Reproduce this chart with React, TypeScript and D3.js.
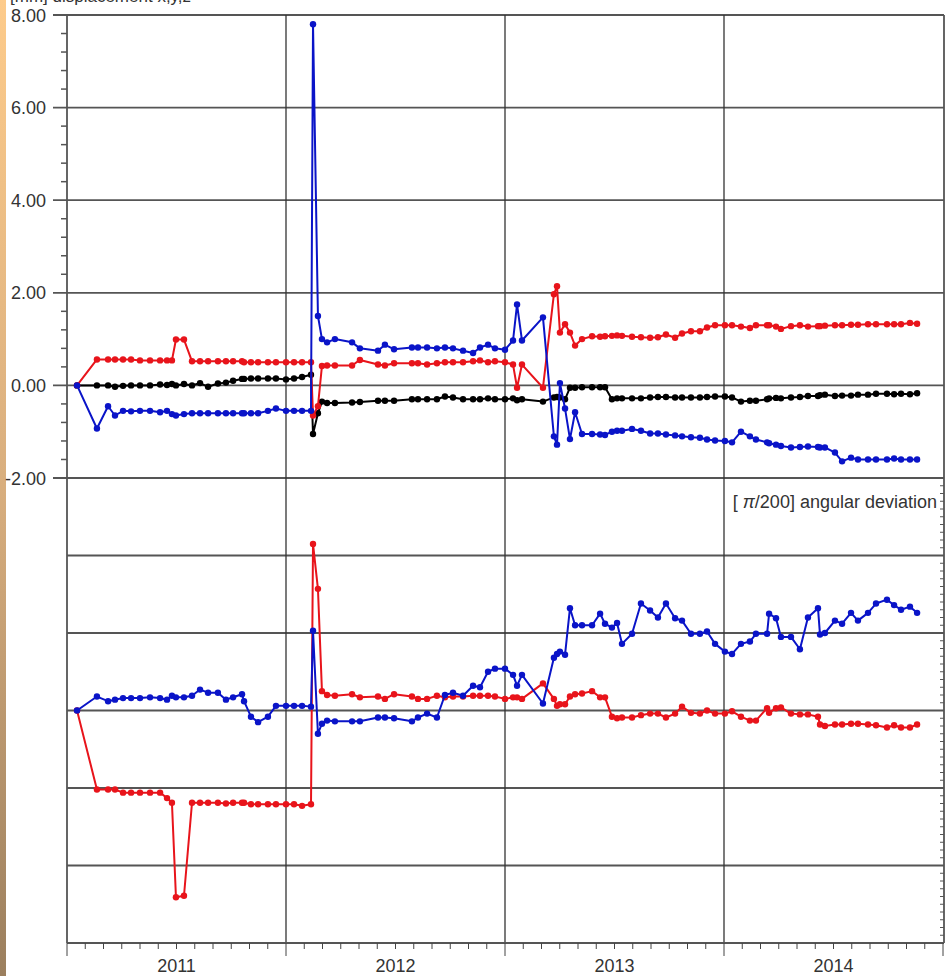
import * as d3 from 'd3';

// survey epochs, months since Jan 2011
const MONTHS = [
  0.55, 1.64, 2.25, 2.63, 3.07, 3.51, 4.0, 4.55, 5.1, 5.48, 5.75, 5.97, 6.41, 6.85, 7.29, 7.73, 8.27, 8.71, 9.1, 9.59,
  9.7, 10.08, 10.47, 11.01, 11.45, 12.0, 12.44, 12.88, 13.37, 13.48, 13.75, 13.97, 14.25, 14.68, 15.62, 16.05, 17.04, 17.42, 17.92, 18.9,
  19.23, 19.73, 20.27, 20.71, 21.15, 21.7, 22.25, 22.63, 23.07, 23.45, 24.0, 24.44, 24.66, 24.93, 26.08, 26.68, 26.85, 27.01, 27.29, 27.56,
  27.84, 28.22, 28.77, 29.21, 29.48, 29.86, 30.14, 30.41, 30.96, 31.45, 31.95, 32.38, 32.82, 33.32, 33.7, 34.19, 34.68, 35.07, 35.51, 36.05,
  36.44, 36.93, 37.42, 37.75, 38.36, 38.47, 38.85, 39.12, 39.67, 40.16, 40.6, 41.15, 41.26, 41.53, 42.08, 42.47, 42.96, 43.34, 43.89, 44.33,
  44.93, 45.32, 45.7, 46.19, 46.58,
];

// [mm] displacement
const DISP_RED = [
  0, 0.56, 0.56, 0.56, 0.56, 0.56, 0.54, 0.54, 0.54, 0.54, 0.54, 0.99, 0.99, 0.52, 0.52, 0.52, 0.52, 0.52, 0.52, 0.52,
  0.5, 0.5, 0.5, 0.5, 0.5, 0.5, 0.5, 0.5, 0.5, -0.65, -0.45, 0.42, 0.43, 0.43, 0.43, 0.55, 0.45, 0.43, 0.48, 0.48,
  0.48, 0.45, 0.48, 0.5, 0.5, 0.5, 0.52, 0.54, 0.5, 0.52, 0.5, 0.45, -0.05, 0.45, -0.05, 1.97, 2.14, 1.14, 1.32, 1.14,
  0.86, 1.0, 1.06, 1.05, 1.06, 1.07, 1.08, 1.07, 1.05, 1.04, 1.03, 1.04, 1.1, 1.03, 1.12, 1.17, 1.17, 1.25, 1.3, 1.3,
  1.3, 1.27, 1.24, 1.3, 1.3, 1.3, 1.27, 1.22, 1.28, 1.3, 1.27, 1.28, 1.28, 1.29, 1.3, 1.3, 1.31, 1.31, 1.32, 1.32,
  1.32, 1.32, 1.32, 1.35, 1.33,
];
const DISP_BLACK = [
  0, 0, 0, -0.03, -0.01, 0, 0, 0, 0.02, 0.01, 0.03, 0, 0.03, 0, 0.05, -0.03, 0.04, 0.06, 0.1, 0.14,
  0.14, 0.15, 0.15, 0.15, 0.15, 0.13, 0.15, 0.18, 0.23, -1.05, -0.6, -0.35, -0.38, -0.38, -0.37, -0.36, -0.33, -0.33, -0.33, -0.3,
  -0.3, -0.3, -0.3, -0.24, -0.26, -0.3, -0.3, -0.3, -0.28, -0.3, -0.3, -0.28, -0.32, -0.3, -0.35, -0.26, -0.25, -0.26, -0.3, -0.05,
  -0.05, -0.04, -0.04, -0.04, -0.04, -0.3, -0.28, -0.28, -0.28, -0.28, -0.26, -0.25, -0.25, -0.26, -0.26, -0.26, -0.26, -0.25, -0.24, -0.24,
  -0.26, -0.35, -0.33, -0.33, -0.3, -0.28, -0.27, -0.28, -0.26, -0.25, -0.23, -0.23, -0.21, -0.2, -0.23, -0.22, -0.22, -0.2, -0.2, -0.18,
  -0.18, -0.19, -0.18, -0.19, -0.17,
];
const DISP_BLUE = [
  0, -0.93, -0.45, -0.65, -0.55, -0.56, -0.55, -0.55, -0.58, -0.55, -0.62, -0.65, -0.62, -0.6, -0.6, -0.6, -0.6, -0.6, -0.6, -0.6,
  -0.6, -0.6, -0.6, -0.55, -0.5, -0.55, -0.55, -0.55, -0.55, 7.8, 1.5, 1.0, 0.93, 1.0, 0.93, 0.8, 0.75, 0.88, 0.78, 0.82,
  0.82, 0.82, 0.8, 0.82, 0.8, 0.75, 0.7, 0.82, 0.88, 0.8, 0.77, 0.97, 1.75, 0.97, 1.47, -1.1, -1.28, 0.05, -0.5, -1.16,
  -0.58, -1.05, -1.05, -1.06, -1.07, -1.0, -0.98, -0.98, -0.94, -0.98, -1.04, -1.04, -1.06, -1.08, -1.1, -1.12, -1.13, -1.17, -1.19, -1.2,
  -1.23, -1.0, -1.1, -1.17, -1.23, -1.25, -1.28, -1.31, -1.34, -1.33, -1.32, -1.33, -1.34, -1.34, -1.45, -1.64, -1.56, -1.6, -1.6, -1.6,
  -1.6, -1.58, -1.6, -1.6, -1.6,
];

// [pi/200] angular deviation
const ANG_RED = [
  0, -1.02, -1.02, -1.02, -1.06, -1.06, -1.06, -1.06, -1.06, -1.13, -1.19, -2.41, -2.39, -1.19, -1.19, -1.19, -1.19, -1.2, -1.19, -1.19,
  -1.19, -1.21, -1.21, -1.21, -1.21, -1.21, -1.21, -1.23, -1.21, 2.15, 1.57, 0.25, 0.2, 0.19, 0.21, 0.17, 0.18, 0.15, 0.21, 0.18,
  0.15, 0.15, 0.19, 0.17, 0.18, 0.18, 0.19, 0.19, 0.19, 0.18, 0.15, 0.17, 0.17, 0.15, 0.35, 0.15, 0.06, 0.08, 0.08, 0.18,
  0.21, 0.22, 0.25, 0.17, 0.17, -0.08, -0.1, -0.09, -0.09, -0.06, -0.04, -0.04, -0.09, -0.04, 0.05, -0.03, -0.04, 0, -0.04, -0.04,
  -0.01, -0.08, -0.13, -0.13, 0.03, -0.03, 0.03, 0.04, -0.04, -0.05, -0.05, -0.08, -0.18, -0.2, -0.18, -0.18, -0.17, -0.17, -0.18, -0.19,
  -0.22, -0.19, -0.22, -0.22, -0.18,
];
const ANG_BLUE = [
  0, 0.18, 0.12, 0.14, 0.16, 0.16, 0.16, 0.17, 0.16, 0.14, 0.19, 0.17, 0.17, 0.19, 0.27, 0.23, 0.23, 0.14, 0.17, 0.21,
  0.12, -0.08, -0.15, -0.08, 0.06, 0.06, 0.06, 0.06, 0.05, 1.03, -0.3, -0.17, -0.13, -0.14, -0.14, -0.14, -0.09, -0.09, -0.1, -0.14,
  -0.09, -0.04, -0.09, 0.2, 0.23, 0.19, 0.32, 0.3, 0.5, 0.54, 0.54, 0.46, 0.32, 0.46, 0.09, 0.68, 0.73, 0.76, 0.72, 1.32,
  1.1, 1.1, 1.1, 1.25, 1.12, 1.07, 1.13, 0.86, 0.99, 1.38, 1.29, 1.2, 1.38, 1.19, 1.16, 0.99, 0.99, 1.02, 0.86, 0.76,
  0.73, 0.86, 0.89, 0.99, 0.99, 1.25, 1.19, 0.95, 0.95, 0.79, 1.2, 1.32, 0.98, 1.0, 1.16, 1.12, 1.26, 1.16, 1.26, 1.38,
  1.43, 1.36, 1.3, 1.34, 1.26,
];

const YEARS = ['2011', '2012', '2013', '2014'];
const TOP_TICKS = [8, 6, 4, 2, 0, -2];
const BOTTOM_GRID = [2, 1, 0, -1, -2];

const W = 946;
const H = 976;
const LEFT = 67;
const RIGHT = 944;
const FONT = 'Liberation Sans, Arial, sans-serif';

const RED = '#e8141b';
const BLUE = '#0a14c8';
const BLACK = '#000';

export default function App() {
  const x = d3.scaleLinear().domain([0, 48]).range([LEFT, 943]);
  const yTop = d3.scaleLinear().domain([-2, 8]).range([478, 15]);
  const yBot = d3.scaleLinear().domain([-3, 3]).range([943, 478]);

  const series = (vals: number[], y: d3.ScaleLinear<number, number>, color: string, key: string) => {
    const pts = MONTHS.map((m, i) => [x(m), y(vals[i])] as [number, number]);
    const line = d3.line()(pts) ?? '';
    return (
      <g key={key}>
        <path d={line} fill="none" stroke={color} strokeWidth={2} strokeLinejoin="round" />
        {pts.map((p, i) => <circle key={i} cx={p[0]} cy={p[1]} r={3.2} fill={color} />)}
      </g>
    );
  };

  const minorTop = d3.range(-2, 8.01, 0.4).filter(v => Math.abs(v / 2 - Math.round(v / 2)) > 0.01);
  const minorRight = d3.range(-3, 3.001, 0.1);
  const monthTicks = d3.range(0, 49);

  return (
    <svg width={W} height={H} style={{ position: 'absolute', left: 0, top: 0, background: '#fff' }} fontFamily={FONT}>
      <defs>
        <linearGradient id="strip" x1="0" y1="0" x2="0" y2="1">
          <stop offset="0" stopColor="#fdcb8b" />
          <stop offset="0.5" stopColor="#d8ae7e" />
          <stop offset="1" stopColor="#9b7f5e" />
        </linearGradient>
      </defs>
      <rect x={0} y={0} width={6} height={H} fill="url(#strip)" />

      {/* title, cut off by the top edge as in the source */}
      <text x={10} y={2} fontSize={17} fill="#333">[mm] displacement x,y,z</text>

      {/* top panel horizontal grid + labels */}
      {TOP_TICKS.map(v => (
        <g key={v}>
          <line x1={53} x2={RIGHT} y1={yTop(v)} y2={yTop(v)} stroke="#555" strokeWidth={1.8} />
          <text x={46} y={yTop(v) + 6.5} textAnchor="end" fontSize={18} fill="#333">{v.toFixed(2)}</text>
        </g>
      ))}
      {minorTop.map((v, i) => (
        <line key={i} x1={61} x2={LEFT} y1={yTop(v)} y2={yTop(v)} stroke="#555" strokeWidth={1.5} />
      ))}

      {/* lower panel grid */}
      {BOTTOM_GRID.map(v => (
        <line key={v} x1={LEFT} x2={RIGHT} y1={yBot(v)} y2={yBot(v)} stroke="#555" strokeWidth={1.8} />
      ))}
      {minorRight.map((v, i) => (
        <line key={i} x1={RIGHT - 4} x2={RIGHT} y1={yBot(v)} y2={yBot(v)} stroke="#555" strokeWidth={1} />
      ))}

      {/* year boundaries */}
      {[12, 24, 36].map(m => (
        <line key={m} x1={x(m)} x2={x(m)} y1={15} y2={943} stroke="#333" strokeWidth={1.3} />
      ))}
      <line x1={LEFT} x2={LEFT} y1={15} y2={943} stroke="#555" strokeWidth={1.8} />
      <line x1={RIGHT} x2={RIGHT} y1={15} y2={943} stroke="#555" strokeWidth={1.8} />

      <text x={937} y={508} textAnchor="end" fontSize={18} fill="#333">
        [ <tspan fontStyle="italic">π</tspan>/200] angular deviation
      </text>

      {/* x axis */}
      <line x1={LEFT} x2={RIGHT} y1={943} y2={943} stroke="#555" strokeWidth={2.2} />
      {monthTicks.map(m => (
        <line key={m} x1={x(m)} x2={x(m)} y1={943} y2={m % 12 === 0 ? 956 : 949} stroke="#444" strokeWidth={1} />
      ))}
      {YEARS.map((yr, i) => (
        <text key={yr} x={x(i * 12 + 6)} y={972} textAnchor="middle" fontSize={18} fill="#333">{yr}</text>
      ))}

      {/* data */}
      {series(DISP_BLACK, yTop, BLACK, 'k')}
      {series(DISP_RED, yTop, RED, 'r')}
      {series(DISP_BLUE, yTop, BLUE, 'b')}
      {series(ANG_RED, yBot, RED, 'ar')}
      {series(ANG_BLUE, yBot, BLUE, 'ab')}
    </svg>
  );
}
